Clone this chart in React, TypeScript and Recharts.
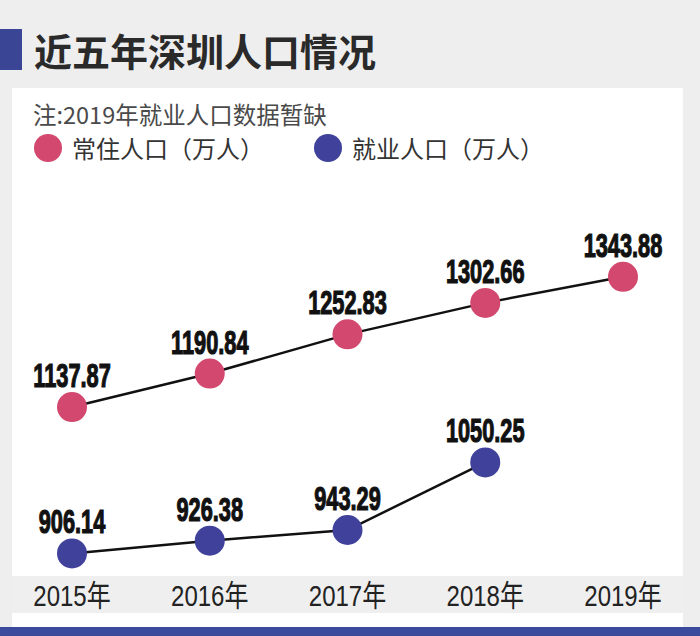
import React from "react";
import { LineChart, Line, XAxis, YAxis, LabelList } from "recharts";

// data
const years = ["2015年", "2016年", "2017年", "2018年", "2019年"];
const resident = [1137.87, 1190.84, 1252.83, 1302.66, 1343.88];
const employed: (number | null)[] = [906.14, 926.38, 943.29, 1050.25, null];

const PINK = "#d2486e";
const BLUE = "#40419a";
const CJK = '"Noto Sans CJK SC", "Liberation Sans", sans-serif';
const LATIN = '"Liberation Sans", "Noto Sans CJK SC", sans-serif';

const data = years.map((year, i) => ({
  year,
  resident: resident[i],
  employed: employed[i],
}));

// bold condensed value label above each dot
const ValueLabel = (props: any) => {
  const { x, y, value } = props;
  if (value == null) return null;
  return (
    <text
      transform={`translate(${x},${y - 20}) scale(0.66,1)`}
      textAnchor="middle"
      fontFamily={LATIN}
      fontWeight="bold"
      fontSize={33}
      fill="#111"
      stroke="#111"
      strokeWidth={1.2}
    >
      {Number(value).toFixed(2)}
    </text>
  );
};

// narrow year tick
const YearTick = (props: any) => {
  const { x, y, payload } = props;
  return (
    <text
      transform={`translate(${x},${y + 22}) scale(0.8,1)`}
      textAnchor="middle"
      fontFamily={LATIN}
      fontSize={30}
      fill="#222"
    >
      {payload.value}
    </text>
  );
};

function LegendItem({ color, text, left }: { color: string; text: string; left: number }) {
  return (
    <div
      style={{
        position: "absolute",
        left,
        top: 134,
        display: "flex",
        alignItems: "center",
        height: 28,
      }}
    >
      <div
        style={{
          width: 28,
          height: 28,
          borderRadius: "50%",
          background: color,
          marginRight: 10,
        }}
      />
      <span style={{ fontFamily: CJK, fontSize: 24, color: "#333", lineHeight: "28px" }}>
        {text}
      </span>
    </div>
  );
}

export default function App() {
  return (
    <div
      style={{
        position: "absolute",
        top: 0,
        left: 0,
        width: 700,
        height: 636,
        background: "#eeeeee",
        overflow: "hidden",
      }}
    >
      {/* title */}
      <div style={{ position: "absolute", left: 0, top: 29, width: 22, height: 41, background: "#3a4596" }} />
      <div
        style={{
          position: "absolute",
          left: 34,
          top: 24,
          fontFamily: CJK,
          fontWeight: 700,
          fontSize: 38,
          lineHeight: "52px",
          color: "#2a2a2a",
        }}
      >
        近五年深圳人口情况
      </div>

      {/* white panel */}
      <div style={{ position: "absolute", left: 12, top: 88, width: 671, height: 539, background: "#ffffff" }} />
      {/* axis label band */}
      <div style={{ position: "absolute", left: 12, top: 576, width: 671, height: 37, background: "#efefef" }} />
      {/* bottom bar */}
      <div style={{ position: "absolute", left: 0, top: 627, width: 700, height: 9, background: "#3b4a9c" }} />

      {/* note */}
      <div
        style={{
          position: "absolute",
          left: 33,
          top: 100,
          fontFamily: CJK,
          fontSize: 23.5,
          lineHeight: "28px",
          color: "#4a4a4a",
        }}
      >
        注:2019年就业人口数据暂缺
      </div>

      <LegendItem color={PINK} text="常住人口（万人）" left={34} />
      <LegendItem color={BLUE} text="就业人口（万人）" left={314} />

      <div style={{ position: "absolute", left: 0, top: 0 }}>
        <LineChart
          width={700}
          height={636}
          data={data}
          margin={{ top: 254, right: 77, bottom: 36, left: 72 }}
        >
          <XAxis
            dataKey="year"
            axisLine={false}
            tickLine={false}
            tickMargin={8}
            interval={0}
            tick={<YearTick />}
          />
          <YAxis hide domain={[880, 1380]} />
          <Line
            dataKey="resident"
            stroke="#111"
            strokeWidth={2.5}
            dot={{ r: 15, fill: PINK, stroke: "none" }}
            isAnimationActive={false}
          >
            <LabelList dataKey="resident" content={ValueLabel} />
          </Line>
          <Line
            dataKey="employed"
            stroke="#111"
            strokeWidth={2.5}
            dot={{ r: 15, fill: BLUE, stroke: "none" }}
            isAnimationActive={false}
          >
            <LabelList dataKey="employed" content={ValueLabel} />
          </Line>
        </LineChart>
      </div>
    </div>
  );
}
